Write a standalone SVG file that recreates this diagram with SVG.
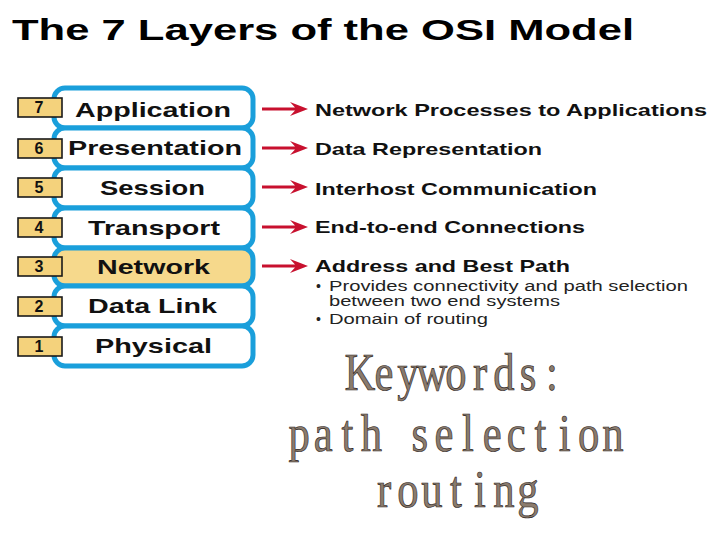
<svg xmlns="http://www.w3.org/2000/svg" width="720" height="540" viewBox="0 0 720 540">
<style>
.title{font-family:"Liberation Sans",Arial,sans-serif;font-weight:bold;font-size:30px;fill:#000}
.layer{fill:#fff;stroke:#1a9fdb;stroke-width:5}
.net{fill:#f6d98c}
.lbl{font-family:"Liberation Sans",Arial,sans-serif;font-weight:bold;font-size:21px;fill:#111;text-anchor:start}
.numbox{fill:#f4d27c;stroke:#1a1a1a;stroke-width:1.6}
.num{font-family:"Liberation Sans",Arial,sans-serif;font-weight:bold;font-size:16px;fill:#111;text-anchor:middle}
.desc{font-family:"Liberation Sans",Arial,sans-serif;font-weight:bold;font-size:17px;fill:#111}
.sub{font-family:"Liberation Sans",Arial,sans-serif;font-size:14px;fill:#222}
.arrow{fill:#c8102e}
.kw{font-family:"Liberation Serif","Times New Roman",serif;font-size:52px;fill:#8a7b6d;stroke:#2a221c;stroke-width:0.7;text-anchor:middle}
</style>
<rect width="720" height="540" fill="#fff"/>
<text class="title" x="12" y="40" textLength="622" lengthAdjust="spacingAndGlyphs">The 7 Layers of the OSI Model</text>

<g id="layer7">
<rect class="layer" x="54" y="88" width="199" height="40" rx="11"/>
<rect class="numbox" x="18" y="98" width="44" height="19"/>
<text class="num" x="39" y="113">7</text>
<text class="lbl" x="75" y="117" textLength="156" lengthAdjust="spacingAndGlyphs">Application</text>
</g>
<g id="layer6">
<rect class="layer" x="54" y="128" width="199" height="40" rx="11"/>
<rect class="numbox" x="18" y="139" width="44" height="19"/>
<text class="num" x="39" y="154">6</text>
<text class="lbl" x="68" y="155" textLength="174" lengthAdjust="spacingAndGlyphs">Presentation</text>
</g>
<g id="layer5">
<rect class="layer" x="54" y="168" width="199" height="40" rx="11"/>
<rect class="numbox" x="18" y="178" width="44" height="19"/>
<text class="num" x="39" y="193">5</text>
<text class="lbl" x="100" y="195" textLength="105" lengthAdjust="spacingAndGlyphs">Session</text>
</g>
<g id="layer4">
<rect class="layer" x="54" y="208" width="199" height="40" rx="11"/>
<rect class="numbox" x="18" y="218" width="44" height="19"/>
<text class="num" x="39" y="233">4</text>
<text class="lbl" x="88" y="235" textLength="132" lengthAdjust="spacingAndGlyphs">Transport</text>
</g>
<g id="layer3">
<rect class="layer net" x="54" y="248" width="199" height="38" rx="11"/>
<rect class="numbox" x="18" y="257" width="44" height="19"/>
<text class="num" x="39" y="272">3</text>
<text class="lbl" x="97" y="274" textLength="113" lengthAdjust="spacingAndGlyphs">Network</text>
</g>
<g id="layer2">
<rect class="layer" x="54" y="286" width="199" height="40" rx="11"/>
<rect class="numbox" x="18" y="297" width="44" height="19"/>
<text class="num" x="39" y="312">2</text>
<text class="lbl" x="88" y="313" textLength="129" lengthAdjust="spacingAndGlyphs">Data Link</text>
</g>
<g id="layer1">
<rect class="layer" x="54" y="326" width="199" height="40" rx="11"/>
<rect class="numbox" x="18" y="337" width="44" height="19"/>
<text class="num" x="39" y="352">1</text>
<text class="lbl" x="95" y="353" textLength="117" lengthAdjust="spacingAndGlyphs">Physical</text>
</g>

<g id="connectors">
<path class="arrow" d="M262,107.5 L295,107.5 L290,102 L308,109 L290,116 L295,110.5 L262,110.5 Z"/>
<path class="arrow" d="M262,146.5 L295,146.5 L290,141 L308,148 L290,155 L295,149.5 L262,149.5 Z"/>
<path class="arrow" d="M262,185.5 L295,185.5 L290,180 L308,187 L290,194 L295,188.5 L262,188.5 Z"/>
<path class="arrow" d="M262,225.5 L295,225.5 L290,220 L308,227 L290,234 L295,228.5 L262,228.5 Z"/>
<path class="arrow" d="M262,264.5 L295,264.5 L290,259 L308,266 L290,273 L295,267.5 L262,267.5 Z"/>
</g>

<g id="desc7"><text class="desc" x="315" y="116" textLength="392" lengthAdjust="spacingAndGlyphs">Network Processes to Applications</text></g>
<g id="desc6"><text class="desc" x="315" y="155" textLength="227" lengthAdjust="spacingAndGlyphs">Data Representation</text></g>
<g id="desc5"><text class="desc" x="315" y="195" textLength="282" lengthAdjust="spacingAndGlyphs">Interhost Communication</text></g>
<g id="desc4"><text class="desc" x="315" y="233" textLength="270" lengthAdjust="spacingAndGlyphs">End-to-end Connections</text></g>
<g id="desc3">
<text class="desc" x="315" y="272" textLength="255" lengthAdjust="spacingAndGlyphs">Address and Best Path</text>
<text class="sub" x="316" y="291">•</text>
<text class="sub" x="329" y="291" textLength="359" lengthAdjust="spacingAndGlyphs">Provides connectivity and path selection</text>
<text class="sub" x="329" y="306" textLength="231" lengthAdjust="spacingAndGlyphs">between two end systems</text>
<text class="sub" x="316" y="324">•</text>
<text class="sub" x="329" y="324" textLength="159" lengthAdjust="spacingAndGlyphs">Domain of routing</text>
</g>

<g id="keywords" transform="scale(0.82,1)">
<text class="kw" x="439.02 468.29 497.56 526.83 556.1 585.37 614.63 643.9 673.17" y="390">Keywords:</text>
<text class="kw" x="364.72 394.16 423.6 453.04 482.48 511.92 541.36 570.8 600.24 629.68 659.12 688.56 718 747.44" y="451">path selection</text>
<text class="kw" x="468.29 497.56 526.83 556.1 585.37 614.63 643.9" y="507">routing</text>
</g>
</svg>
